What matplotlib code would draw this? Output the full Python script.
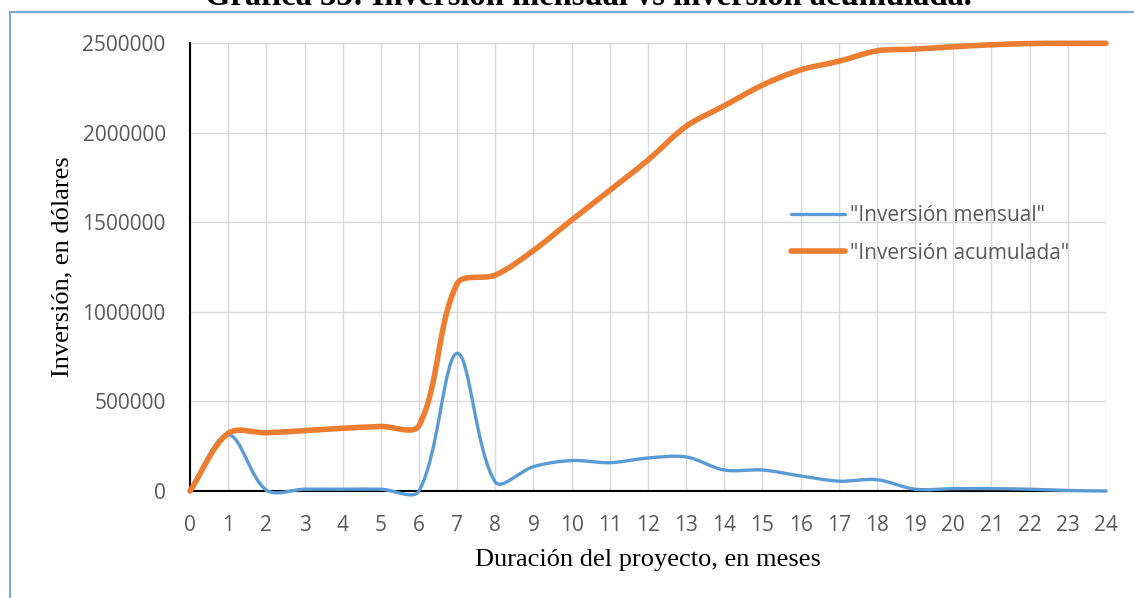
import numpy as np
import matplotlib
matplotlib.use("Agg")
import matplotlib.pyplot as plt
from matplotlib.path import Path
from matplotlib.patches import PathPatch, Rectangle
from matplotlib.lines import Line2D

# Project months and investment per month / running total (USD)
months = list(range(25))
inversion_mensual = [0, 315000, 5000, 10000, 10000, 10000, 0, 768000, 50000, 136000,
                     170000, 158000, 184000, 190000, 117000, 117000, 84000, 55000,
                     63000, 10000, 13000, 13000, 10000, 3000, 0]
inversion_acumulada = [0, 322000, 325000, 337000, 350000, 360000, 365000, 1157000,
                       1205000, 1342000, 1512000, 1678000, 1847000, 2035000, 2150000,
                       2265000, 2350000, 2398000, 2456000, 2466000, 2479000, 2490000,
                       2497000, 2498000, 2498000]
y_ticks = [0, 500000, 1000000, 1500000, 2000000, 2500000]

series_names = ['"Inversión mensual"', '"Inversión acumulada"']
colors = ["#5B9BD5", "#ED7D31"]
widths = [2.4, 4.0]

TICK_FONT = "Open Sans"
LABEL_FONT = "Liberation Serif"
GRAY = "#595959"

FIG_W, FIG_H = 1134, 598
AX_L, AX_R, AX_T, AX_B = 190, 1106, 43, 491
X_MAX, Y_MAX = 24, 2500000


def smooth_path(x, y, sx, sy):
    """Cubic Bezier path through every point; tangent arms are weighted by the
    on-screen length of the neighbouring segments (sx, sy: pixels per unit)."""
    pts = np.column_stack([x, y]).astype(float)
    scr = pts * np.array([sx, sy])
    n = len(pts)
    seg = np.hypot(*np.diff(scr, axis=0).T)
    verts = [pts[0]]
    codes = [Path.MOVETO]
    for i in range(n - 1):
        # outgoing arm at point i
        if i == 0:
            c1 = pts[i] + (pts[i + 1] - pts[i]) / 3.0
        else:
            t = pts[i + 1] - pts[i - 1]
            c1 = pts[i] + t * seg[i] / (seg[i - 1] + seg[i]) / 3.0
        # incoming arm at point i+1
        j = i + 1
        if j == n - 1:
            c2 = pts[j] - (pts[j] - pts[i]) / 3.0
        else:
            t = pts[j + 1] - pts[j - 1]
            c2 = pts[j] - t * seg[j - 1] / (seg[j - 1] + seg[j]) / 3.0
        verts += [c1, c2, pts[j]]
        codes += [Path.CURVE4] * 3
    return Path(verts, codes)


fig = plt.figure(figsize=(FIG_W / 100, FIG_H / 100), dpi=100)
fig.patch.set_facecolor("white")

# outer frame of the chart area
frame = Rectangle((10 / FIG_W, -0.2), 1.2, 1.2 - 12 / FIG_H,
                  transform=fig.transFigure, fill=False,
                  edgecolor="#7AAAD8", linewidth=1.5, zorder=0)
fig.patches.append(frame)

fig.text(0.519, 1 - 5 / FIG_H, "Gráfica 33: Inversión mensual vs inversión acumulada.",
         ha="center", va="baseline", fontsize=23.5, fontweight="bold",
         family=LABEL_FONT, color="black")

ax = fig.add_axes([AX_L / FIG_W, 1 - AX_B / FIG_H,
                   (AX_R - AX_L) / FIG_W, (AX_B - AX_T) / FIG_H])
ax.set_xlim(0, X_MAX)
ax.set_ylim(0, Y_MAX)
ax.set_xticks(months)
ax.set_yticks(y_ticks)
ax.set_xticklabels([str(m) for m in months])
ax.set_yticklabels([str(v) for v in y_ticks])
ax.tick_params(length=0, labelsize=15, labelcolor=GRAY)
ax.tick_params(axis="x", pad=17.5)
ax.tick_params(axis="y", pad=17.5)
for lab in ax.get_xticklabels() + ax.get_yticklabels():
    lab.set_family(TICK_FONT)

ax.grid(True, color="#D9D9D9", linewidth=1.0, zorder=0)
ax.set_axisbelow(True)
for side in ("top", "right"):
    ax.spines[side].set_visible(False)
for side in ("left", "bottom"):
    ax.spines[side].set_color("black")
    ax.spines[side].set_linewidth(1.5)

sx = (AX_R - AX_L) / X_MAX
sy = (AX_B - AX_T) / Y_MAX
handles = []
for vals, name, col, lw in zip([inversion_mensual, inversion_acumulada],
                               series_names, colors, widths):
    patch = PathPatch(smooth_path(months, vals, sx, sy), fill=False, edgecolor=col,
                      linewidth=lw, capstyle="round", joinstyle="round",
                      transform=ax.transData, zorder=3, clip_on=False)
    ax.add_patch(patch)
    handles.append(Line2D([], [], color=col, linewidth=lw, solid_capstyle="round"))

leg = ax.legend(handles, series_names, loc="upper left",
                bbox_to_anchor=((791 - AX_L) / 916, (AX_B - 205) / 448),
                frameon=False, handlelength=2.6, handletextpad=0.25,
                labelspacing=0.8, borderpad=0.0, borderaxespad=0.0,
                prop={"family": TICK_FONT, "size": 15})
for t in leg.get_texts():
    t.set_color(GRAY)

ax.set_xlabel("Duración del proyecto, en meses", family=LABEL_FONT,
              fontsize=19, color="black", labelpad=9)
ax.set_ylabel("Inversión, en dólares", family=LABEL_FONT,
              fontsize=19, color="black", labelpad=6.5)

fig.savefig("out.png", dpi=100)
